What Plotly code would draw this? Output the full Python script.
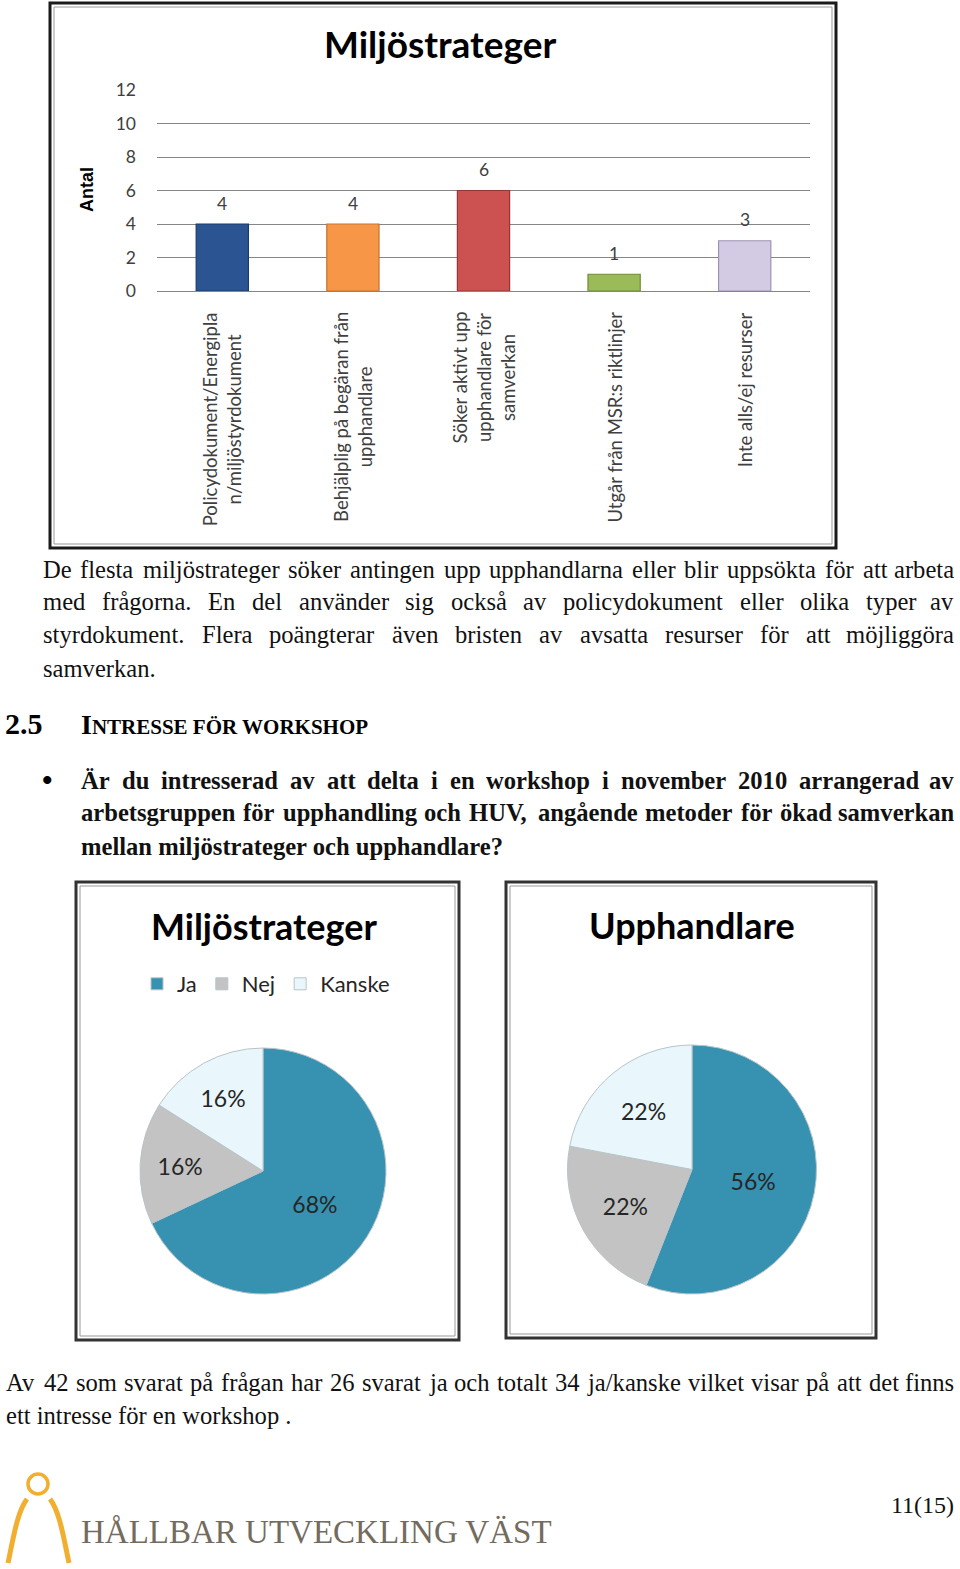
import plotly.graph_objects as go

W, H = 960, 1569


def px(x):
    return x / W


def py(y):
    return 1 - y / H


# ---------------- data ----------------
bar_title = "Miljöstrateger"
bar_categories = [
    "Policydokument/Energipla<br>n/miljöstyrdokument",
    "Behjälplig på begäran från<br>upphandlare",
    "Söker aktivt upp<br>upphandlare för<br>samverkan",
    "Utgår från MSR:s riktlinjer",
    "Inte alls/ej resurser",
]
bar_values = [4, 4, 6, 1, 3]
bar_colors = ["#2A5592", "#F79646", "#CB5250", "#9BBB59", "#D3CBE3"]
bar_edges = ["#1B3A66", "#C6752F", "#943634", "#6F8C36", "#9C93B5"]
y_ticks = [0, 2, 4, 6, 8, 10, 12]

pie_labels = ["Ja", "Nej", "Kanske"]
pie_colors = ["#3791B0", "#C3C3C3", "#E9F7FC"]
miljo_title = "Miljöstrateger"
miljo_pct = [68, 16, 16]
upph_title = "Upphandlare"
upph_pct = [56, 22, 22]

para1 = [
    "De flesta miljöstrateger söker antingen upp upphandlarna eller blir uppsökta för att arbeta",
    "med frågorna. En del använder sig också av policydokument eller olika typer av",
    "styrdokument. Flera poängterar även bristen av avsatta resurser för att möjliggöra",
    "samverkan.",
]
bullet_lines = [
    "Är du intresserad av att delta i en workshop i november 2010 arrangerad av",
    "arbetsgruppen för upphandling och HUV, angående metoder för ökad samverkan",
    "mellan miljöstrateger och upphandlare?",
]
para2 = [
    "Av 42 som svarat på frågan har 26 svarat ja och totalt 34 ja/kanske vilket visar på att det finns",
    "ett intresse för en workshop .",
]

# ------------- approximate Times metrics (for justification) -------------
REG = {" ": 250, ",": 250, ".": 250, "?": 444, "/": 278, ":": 278, "%": 833,
       "A": 722, "B": 667, "C": 667, "D": 722, "E": 611, "F": 556, "G": 722, "H": 722,
       "I": 333, "K": 722, "L": 611, "M": 889, "N": 722, "O": 722, "P": 556, "R": 667,
       "S": 556, "T": 611, "U": 722, "V": 722, "W": 944, "Ä": 722, "Ö": 722, "Å": 722,
       "a": 444, "b": 500, "c": 444, "d": 500, "e": 444, "f": 333, "g": 500, "h": 500,
       "i": 278, "j": 278, "k": 500, "l": 278, "m": 778, "n": 500, "o": 500, "p": 500,
       "q": 500, "r": 333, "s": 389, "t": 278, "u": 500, "v": 500, "w": 722, "x": 500,
       "y": 500, "z": 444, "å": 444, "ä": 444, "ö": 500}
BOLD = {" ": 250, ",": 250, ".": 250, "?": 500, "/": 278, ":": 333,
        "A": 722, "B": 667, "C": 722, "D": 722, "E": 667, "F": 611, "G": 778, "H": 778,
        "I": 389, "K": 778, "L": 667, "M": 944, "N": 722, "O": 778, "P": 611, "R": 722,
        "S": 556, "T": 667, "U": 722, "V": 722, "W": 1000, "Ä": 722, "Ö": 778,
        "a": 500, "b": 556, "c": 444, "d": 556, "e": 444, "f": 333, "g": 500, "h": 556,
        "i": 278, "j": 333, "k": 556, "l": 278, "m": 833, "n": 556, "o": 500, "p": 556,
        "q": 556, "r": 444, "s": 389, "t": 333, "u": 556, "v": 500, "w": 722, "x": 500,
        "y": 500, "z": 444, "å": 500, "ä": 500, "ö": 500}

SERIF = "Liberation Serif"
annotations = []


def text_ann(text, x, y, size, family=SERIF, color="#111111", xanchor="left", bold=False, **kw):
    t = f"<b>{text}</b>" if bold else text
    d = dict(text=t, x=px(x), y=py(y), xref="paper", yref="paper", xanchor=xanchor,
             yanchor="middle", showarrow=False, borderpad=0,
             font=dict(family=family, size=size, color=color))
    d.update(kw)
    annotations.append(d)


def justify(line, x0, x1, y, size, bold=False):
    table = BOLD if bold else REG
    words = line.split(" ")
    widths = [sum(table.get(c, 500) for c in w) * size / 1000 for w in words]
    gap = (x1 - x0 - sum(widths)) / (len(words) - 1)
    x = x0
    for i, (w, wd) in enumerate(zip(words, widths)):
        if i == len(words) - 1:
            text_ann(w, x1, y, size, xanchor="right", bold=bold)
        else:
            text_ann(w, x, y, size, bold=bold)
        x += wd + gap


# ---------------- figure ----------------
fig = go.Figure()

fig.add_trace(go.Bar(
    x=bar_categories, y=bar_values, width=0.4,
    marker=dict(color=bar_colors, line=dict(color=bar_edges, width=1.2)),
    showlegend=False, hoverinfo="skip",
))

pie_common = dict(
    labels=pie_labels, sort=False, direction="clockwise", rotation=0,
    marker=dict(colors=pie_colors, line=dict(color="#B8C4C8", width=1)),
    textinfo="percent", texttemplate="%{percent:.0%}", textposition="inside",
    insidetextorientation="horizontal",
    textfont=dict(family="Lato", size=23, color="#262626"), hoverinfo="skip",
)
fig.add_trace(go.Pie(values=miljo_pct, legend="legend",
                     domain=dict(x=[px(140), px(386)], y=[py(1295), py(1047)]), **pie_common))
fig.add_trace(go.Pie(values=upph_pct, legend="legend2",
                     domain=dict(x=[px(566), px(818)], y=[py(1294), py(1045)]), **pie_common))

# bar chart text
text_ann(bar_title, 440, 44, 37, family="Lato", color="#000000", xanchor="center", bold=True)
text_ann("Antal", 87, 190, 18, family="Liberation Sans", color="#000000", xanchor="center",
         bold=True, textangle=-90)
for cat, v in zip(bar_categories, bar_values):
    annotations.append(dict(text=str(v), x=cat, y=v, xref="x", yref="y", yshift=21,
                            showarrow=False, yanchor="middle",
                            font=dict(family="Lato", size=17.5, color="#404040")))
    annotations.append(dict(text=cat, x=cat, y=py(310), xref="x", yref="paper",
                            yanchor="top", xanchor="center", textangle=-90, showarrow=False,
                            align="center", font=dict(family="Lato", size=18.5, color="#404040")))

# body text
for i, line in enumerate(para1):
    y = 569 + 33 * i
    if i < len(para1) - 1:
        justify(line, 42, 955, y, 24.6)
    else:
        text_ann(line, 42, y, 24.6)

text_ann("2.5", 4, 723, 30, bold=True, color="#000000")
heading = "I<span style='font-size:21px'>NTRESSE FÖR WORKSHOP</span>"
text_ann(heading, 80, 724, 28, bold=True, color="#000000")

text_ann("•", 47, 779, 30, color="#000000", xanchor="center", bold=True)
for i, line in enumerate(bullet_lines):
    y = 780 + 33 * i
    if i < len(bullet_lines) - 1:
        justify(line, 80, 955, y, 24.6, bold=True)
    else:
        text_ann(line, 80, y, 24.6, bold=True)

for i, line in enumerate(para2):
    y = 1382 + 33 * i
    if i < len(para2) - 1:
        justify(line, 5, 955, y, 24.6)
    else:
        text_ann(line, 5, y, 24.6)

# pie titles
text_ann(miljo_title, 264, 926, 36, family="Lato", color="#000000", xanchor="center", bold=True)
text_ann(upph_title, 692, 925, 36, family="Lato", color="#000000", xanchor="center", bold=True)

# footer
text_ann("HÅLLBAR UTVECKLING VÄST", 80, 1532, 33, color="#736B5D")
text_ann("11(15)", 955, 1505, 24, color="#111111", xanchor="right")

# ---------------- shapes ----------------
shapes = []


def rect(x0, y0, x1, y1, color, width):
    shapes.append(dict(type="rect", xref="paper", yref="paper", x0=px(x0), x1=px(x1),
                       y0=py(y1), y1=py(y0), line=dict(color=color, width=width)))


rect(50, 3, 836, 548, "#1a1a1a", 3)
rect(54, 7, 832, 544, "#9a9a9a", 1)
rect(76, 882, 459, 1340, "#333333", 3)
rect(80, 886, 455, 1336, "#9a9a9a", 1)
rect(506, 882, 876, 1338, "#333333", 3)
rect(510, 886, 872, 1334, "#9a9a9a", 1)


def path(points):
    s = f"M {px(points[0][0])},{py(points[0][1])} C "
    s += " ".join(f"{px(a)},{py(b)}" for a, b in points[1:])
    return s


LOGO = "#F2AE2E"
shapes.append(dict(type="circle", xref="paper", yref="paper", x0=px(28), x1=px(48),
                   y0=py(1494), y1=py(1474), line=dict(color=LOGO, width=3.5)))
shapes.append(dict(type="path", xref="paper", yref="paper",
                   path=path([(27, 1499), (17, 1512), (13, 1540), (8, 1563)]),
                   line=dict(color=LOGO, width=5)))
shapes.append(dict(type="path", xref="paper", yref="paper",
                   path=path([(50, 1499), (60, 1512), (64, 1540), (69, 1563)]),
                   line=dict(color=LOGO, width=5)))

legend_common = dict(orientation="h", xanchor="center", yanchor="middle",
                     font=dict(family="Lato", size=22, color="#262626"),
                     bgcolor="rgba(0,0,0,0)", itemclick=False, itemdoubleclick=False)

fig.update_layout(
    width=W, height=H,
    margin=dict(l=0, r=0, t=0, b=0, pad=0, autoexpand=False),
    paper_bgcolor="white", plot_bgcolor="white",
    font=dict(family="Lato"),
    xaxis=dict(domain=[px(157), px(810)], range=[-0.5, 4.5], showticklabels=False,
               showline=True, linecolor="#868686", linewidth=1, showgrid=False,
               zeroline=False, ticks="", fixedrange=True),
    yaxis=dict(domain=[py(291), py(90)], range=[0, 12], tickvals=y_ticks,
               showgrid=True, gridcolor="#868686", gridwidth=1, showline=False,
               zeroline=False, ticks="", ticklabelstandoff=20,
               tickfont=dict(family="Lato", size=17.5, color="#404040"), fixedrange=True),
    legend=dict(x=px(266), y=py(984), **legend_common),
    legend2=dict(x=px(695), y=py(984), **legend_common),
    annotations=annotations,
    shapes=shapes,
)

fig.write_html("out.html")
